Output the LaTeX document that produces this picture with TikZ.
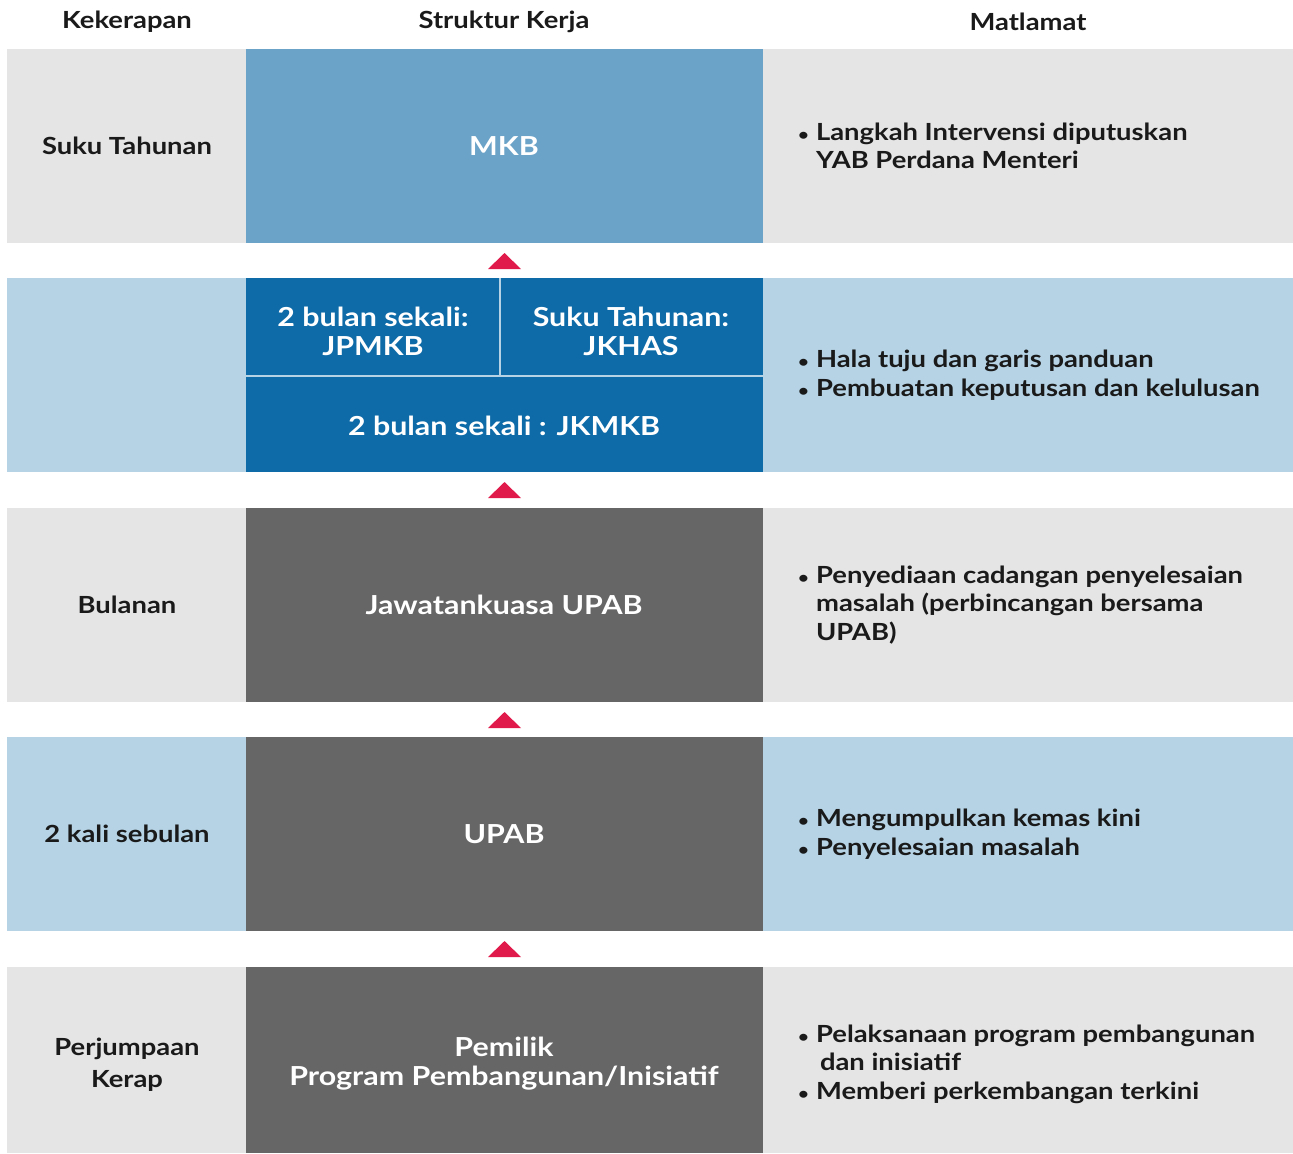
\documentclass[tikz,border=0pt]{standalone}
\usepackage{fontspec}
\setmainfont{Lato}[FakeStretch=1.16]
\definecolor{bggrey}{HTML}{E5E5E5}
\definecolor{bgblue}{HTML}{B5D3E5}
\definecolor{midblue}{HTML}{6BA3C8}
\definecolor{deepblue}{HTML}{0E6BA8}
\definecolor{boxgrey}{HTML}{666666}
\definecolor{uptri}{HTML}{E01B4C}
\definecolor{ink}{HTML}{1A1A1A}
\newcommand{\bul}{\makebox[9pt][l]{\fontsize{8}{8}\selectfont\textbullet}}
\newcommand{\ind}{\hspace*{9pt}}

\begin{document}
\begin{tikzpicture}[x=0.5pt, y=-0.5pt, line join=round,
    font=\bfseries\fontsize{11.8}{14.2}\selectfont,
    lbl/.style={text=ink, align=center},
    boxlbl/.style={text=white, align=center, font=\bfseries\fontsize{13.1}{14.5}\selectfont},
    goal/.style={text=ink, align=left, anchor=west}]

    % page size
    \useasboundingbox (0,0) rectangle (1293,1153);

    % Row backgrounds
    \fill[bggrey] (7,49)  rectangle (1293,243);
    \fill[bgblue] (7,278) rectangle (1293,472);
    \fill[bggrey] (7,508) rectangle (1293,702);
    \fill[bgblue] (7,737) rectangle (1293,931);
    \fill[bggrey] (7,967) rectangle (1293,1153);

    % Middle column boxes
    \fill[midblue]  (246,49)  rectangle (763,243);
    \fill[deepblue] (246,278) rectangle (763,472);
    \fill[boxgrey]  (246,508) rectangle (763,702);
    \fill[boxgrey]  (246,737) rectangle (763,931);
    \fill[boxgrey]  (246,967) rectangle (763,1153);

    % Split of the committee box
    \draw[bgblue, line width=0.6pt] (246,376) -- (763,376);
    \draw[bgblue, line width=0.6pt] (500,278) -- (500,376);

    % Upward markers between rows
    \foreach \yb in {269, 498, 728, 957}
        \fill[uptri] (488,\yb) -- (521,\yb) -- (504.5,\yb-16) -- cycle;

    % Headers
    \node[lbl] (hfreq) at (127,22)  {Kekerapan};
    \node[lbl] (hwork) at (504,22)  {Struktur Kerja};
    \node[lbl] (hgoal) at (1028,22) {Matlamat};

    % Frequency column
    \node[lbl] (fquart) at (127,146)  {Suku Tahunan};
    \node[lbl] (fmonth) at (127,605)  {Bulanan};
    \node[lbl] (ftwice) at (127,834)  {2 kali sebulan};
    \node[lbl, font=\bfseries\fontsize{11.8}{16}\selectfont] (foften) at (127,1065) {Perjumpaan\\Kerap};

    % Work structure column
    \node[boxlbl] (mkb)   at (504,146)  {MKB};
    \node[boxlbl] (jpmkb) at (373,331)  {2 bulan sekali:\\JPMKB};
    \node[boxlbl] (jkhas) at (631,331)  {Suku Tahunan:\\JKHAS};
    \node[boxlbl] (jkmkb) at (504,426)  {2 bulan sekali : JKMKB};
    \node[boxlbl] (jkupab) at (504,605) {Jawatankuasa UPAB};
    \node[boxlbl] (upab)  at (504,834)  {UPAB};
    \node[boxlbl] (owner) at (504,1064) {Pemilik\\Program Pembangunan/Inisiatif};

    % Goals column
    \node[goal] (gmkb)   at (791,146)  {\bul Langkah Intervensi diputuskan\\\ind YAB Perdana Menteri};
    \node[goal] (gjk)    at (791,375)  {\bul Hala tuju dan garis panduan\\\bul Pembuatan keputusan dan kelulusan};
    \node[goal] (gjkupab) at (791,605) {\bul Penyediaan cadangan penyelesaian\\\ind masalah (perbincangan bersama\\\ind UPAB)};
    \node[goal] (gupab)  at (791,834)  {\bul Mengumpulkan kemas kini\\\bul Penyelesaian masalah};
    \node[goal] (gowner) at (791,1064) {\bul Pelaksanaan program pembangunan\\\ind\,dan inisiatif\\\bul Memberi perkembangan terkini};

\end{tikzpicture}
\end{document}
